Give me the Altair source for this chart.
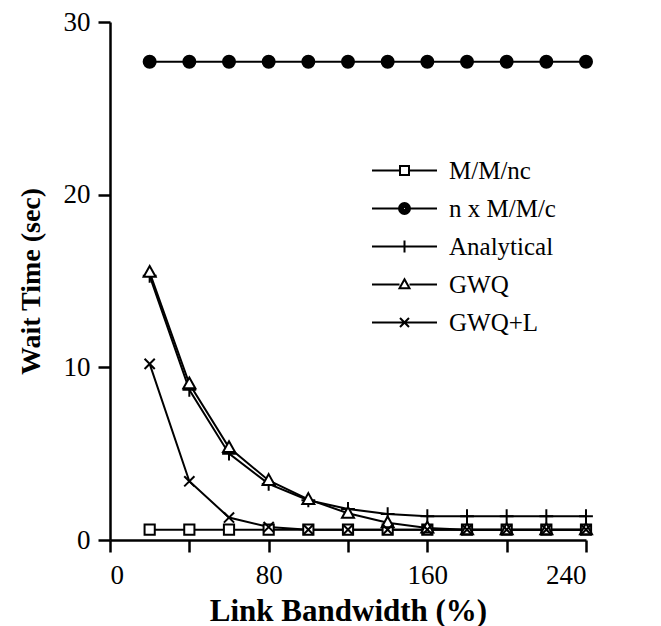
import altair as alt
import pandas as pd

# Link bandwidth (%) at which each model was evaluated
bandwidth = [20, 40, 60, 80, 100, 120, 140, 160, 180, 200, 220, 240]

# Mean wait time (sec) per model
mm_nc = [0.6, 0.6, 0.6, 0.6, 0.6, 0.6, 0.6, 0.6, 0.6, 0.6, 0.6, 0.6]
n_mmc = [27.7, 27.7, 27.7, 27.7, 27.7, 27.7, 27.7, 27.7, 27.7, 27.7, 27.7, 27.7]
analytical = [15.3, 8.7, 5.0, 3.25, 2.3, 1.8, 1.5, 1.38, 1.38, 1.38, 1.38, 1.38]
gwq = [15.5, 9.05, 5.35, 3.45, 2.35, 1.55, 1.0, 0.7, 0.6, 0.6, 0.6, 0.6]
gwq_l = [10.2, 3.4, 1.3, 0.75, 0.6, 0.6, 0.6, 0.6, 0.6, 0.6, 0.6, 0.6]

series_names = ["M/M/nc", "n x M/M/c", "Analytical", "GWQ", "GWQ+L"]
series_values = [mm_nc, n_mmc, analytical, gwq, gwq_l]

rows = []
for name, values in zip(series_names, series_values):
    for bw, v in zip(bandwidth, values):
        rows.append({"bw": bw, "wait": v, "series": name})
df = pd.DataFrame(rows)

FONT = "Liberation Serif"

# marker outlines in unit coordinates (scaled by the symbol size)
marker_paths = [
    "M-0.85,-0.85H0.85V0.85H-0.85Z",
    "M-1,0A1,1 0 1,0 1,0A1,1 0 1,0 -1,0Z",
    "M-1.15,0H1.15M0,-1.15V1.15",
    "M0,-1.05L1,0.75H-1Z",
    "M-0.85,-0.85L0.85,0.85M-0.85,0.85L0.85,-0.85",
]
fill_colors = ["white", "black", "white", "white", "white"]

# legend glyphs: a line segment with the marker drawn over it;
# the solid dot is built from concentric rings so it reads as filled
dot = "".join(
    f"M-{r},0A{r},{r} 0 1,0 {r},0A{r},{r} 0 1,0 -{r},0Z" for r in ("1.1", "0.75", "0.4", "0.1")
)
legend_paths = [
    "M-6.5,0H-0.9M0.9,0H6.5M-0.9,-0.9H0.9V0.9H-0.9Z",
    "M-6.5,0H-1.1M1.1,0H6.5" + dot,
    "M-6.5,0H6.5M0,-1.2V1.2",
    "M-6.5,0H-1M1,0H6.5M0,-1.05L1,0.75H-1Z",
    "M-6.5,0H6.5M-0.9,-0.9L0.9,0.9M-0.9,0.9L0.9,-0.9",
]

x_enc = alt.X(
    "bw:Q",
    scale=alt.Scale(domain=[0, 240], nice=False),
    axis=alt.Axis(
        title="Link Bandwidth (%)",
        values=[0, 40, 80, 120, 160, 200, 240],
        labelExpr="datum.value % 80 == 0 ? datum.label : ''",
        labelPadding=10,
        titlePadding=8,
        titleFontSize=31,
    ),
)
y_enc = alt.Y(
    "wait:Q",
    scale=alt.Scale(domain=[0, 30], nice=False),
    axis=alt.Axis(
        title="Wait Time (sec)",
        values=[0, 10, 20, 30],
        labelPadding=8,
        titlePadding=18,
        titleFontSize=28,
    ),
)

lines = alt.Chart(df).mark_line(color="black", strokeWidth=2).encode(
    x=x_enc, y=y_enc, detail="series:N"
)

points = alt.Chart(df).mark_point(
    stroke="black", strokeWidth=2, size=144, opacity=1, fillOpacity=1
).encode(
    x=x_enc,
    y=y_enc,
    shape=alt.Shape("series:N", scale=alt.Scale(domain=series_names, range=marker_paths), legend=None),
    fill=alt.Fill("series:N", scale=alt.Scale(domain=series_names, range=fill_colors), legend=None),
)

# legend-only layer: its rows are filtered out, the fixed scale domain keeps the entries
legend_layer = alt.Chart(df).transform_filter("datum.wait < 0").mark_point(
    stroke="black", strokeWidth=2, opacity=1
).encode(
    x=x_enc,
    y=y_enc,
    shape=alt.Shape(
        "series:N",
        scale=alt.Scale(domain=series_names, range=legend_paths),
        legend=alt.Legend(
            title=None,
            orient="none",
            legendX=282,
            legendY=136,
            padding=0,
            symbolSize=100,
            symbolStrokeWidth=2,
            symbolStrokeColor="black",
            symbolFillColor="white",
            symbolOpacity=1,
            labelOffset=32,
            labelFont=FONT,
            labelFontSize=25,
            labelColor="black",
            rowPadding=12,
        ),
    ),
)

chart = (
    alt.layer(lines, points, legend_layer)
    .resolve_scale(shape="independent")
    .properties(
        width=476,
        height=518,
        autosize=alt.AutoSizeParams(type="none"),
        padding={"left": 110, "top": 22, "right": 75, "bottom": 86},
    )
    .configure_view(stroke=None)
    .configure_axis(
        grid=False,
        domainColor="black",
        domainWidth=2.5,
        tickColor="black",
        tickWidth=2.5,
        tickSize=12,
        labelFont=FONT,
        labelFontSize=27,
        labelColor="black",
        titleFont=FONT,
        titleFontWeight="bold",
        titleColor="black",
    )
)

chart.save("out.html", embed_options={"renderer": "svg", "actions": False})
